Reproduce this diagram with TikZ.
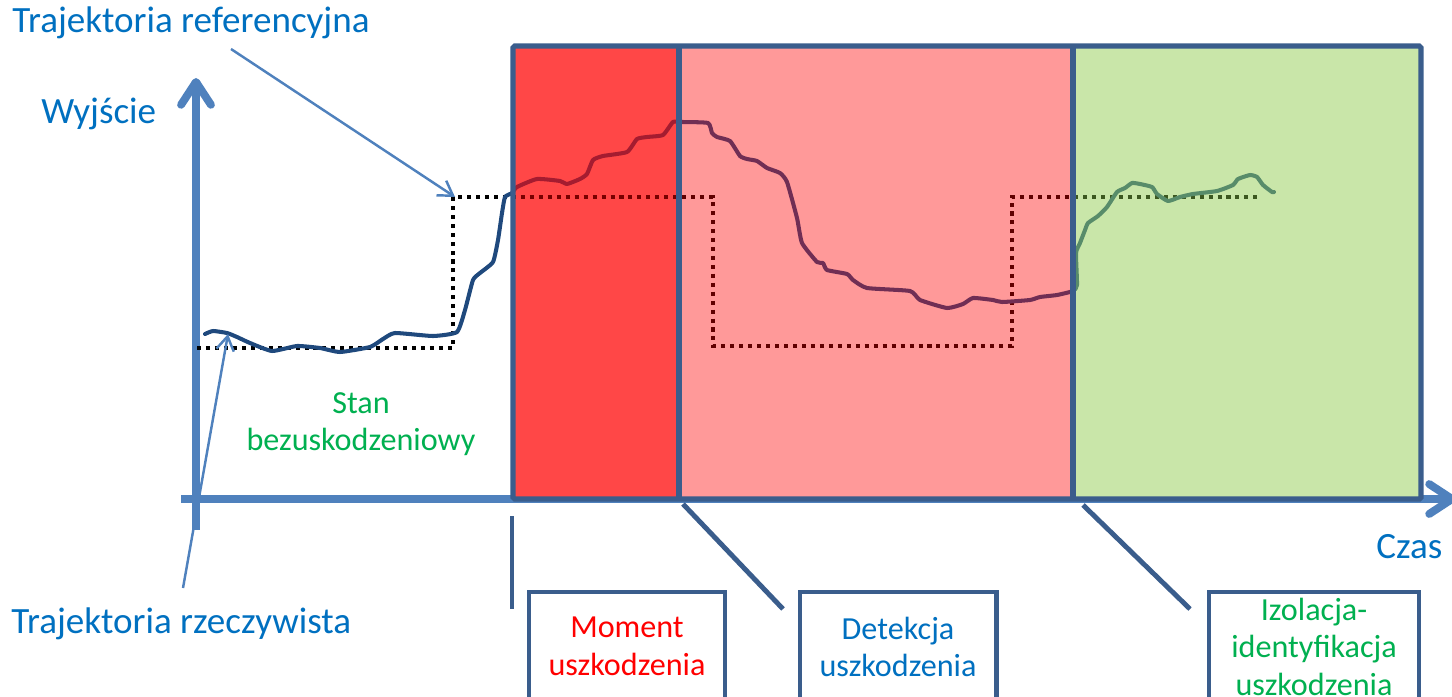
\documentclass[tikz,border=0pt]{standalone}
\usepackage{fontspec}
\setmainfont{Carlito}
\usetikzlibrary{arrows.meta}

\definecolor{axisblue}{RGB}{79,129,189}
\definecolor{frameblue}{RGB}{58,93,140}
\definecolor{labelblue}{RGB}{0,112,192}
\definecolor{labelgreen}{RGB}{0,176,80}
\definecolor{faultred}{RGB}{255,71,71}
\definecolor{detectpink}{RGB}{255,153,153}
\definecolor{isolgreen}{RGB}{201,230,169}
\definecolor{realblue}{RGB}{31,73,125}
\definecolor{realred}{RGB}{165,28,48}
\definecolor{realplum}{RGB}{112,46,84}
\definecolor{realgreen}{RGB}{88,140,106}
\definecolor{refred}{RGB}{120,0,0}
\definecolor{refplum}{RGB}{96,0,0}
\definecolor{refgreen}{RGB}{60,88,32}

\newcommand{\bigfont}{\fontsize{21.1pt}{24pt}\selectfont}
\newcommand{\boxfont}{\fontsize{18.3pt}{21.3pt}\selectfont}

% measured output and the set point
\newcommand{\realcurve}{plot[smooth, tension=0.3] coordinates {
  (205,334) (213,331) (227,333) (237,337) (250,343) (272,351) (297,346)
  (320,348) (340,352) (370,347) (383,339) (395,333) (433,336) (457,332)
  (465,310) (473,280) (480,273) (493,262) (498,240) (502,213) (505,197)
  (512,193) (517,187) (537,179) (560,181) (567,184) (580,179) (587,174)
  (593,160) (603,156) (627,152) (637,139) (647,137) (663,135) (673,122)
  (682,122) (708,123) (712,133) (717,137) (730,141) (740,156) (747,159)
  (757,161) (767,168) (780,173) (787,182) (797,218) (802,243) (817,262)
  (823,263) (827,270) (847,274) (853,280) (867,288) (910,291) (920,300)
  (947,308) (963,304) (973,298) (993,300) (1002,302) (1030,300) (1040,297)
  (1057,295) (1073,291) (1077,285) (1076,253) (1080,243) (1085,230)
  (1088,223) (1098,216) (1107,207) (1117,192) (1125,188) (1132,183)
  (1140,184) (1152,187) (1157,194) (1168,201) (1180,197) (1193,194)
  (1217,191) (1233,185) (1238,179) (1250,175) (1257,177) (1263,185)
  (1272,192) (1274,192)}}
\newcommand{\refcurve}{(197,348) -- (453,348) -- (453,197) -- (713,197)
  -- (713,346) -- (1012,346) -- (1012,197) -- (1258,197)}

\tikzset{
  axis/.style={axisblue, line width=4.5pt, -{Straight Barb[length=13pt,width=17pt,round]}},
  pointer/.style={axisblue, line width=1.4pt, -{Straight Barb[length=8pt,width=10pt]}},
  frame/.style={frameblue, line width=3pt},
  callout/.style={frameblue, line width=2.8pt},
  realline/.style={line width=2.3pt, line join=round, line cap=round},
  refline/.style={line width=2.3pt, dash pattern=on 2.3pt off 2.8pt},
  biglabel/.style={font=\bigfont, text=labelblue, inner sep=0pt, anchor=base west},
  faultbox/.style={draw=frameblue, line width=2.3pt, fill=white, anchor=north,
    minimum width=3.92cm, align=center, font=\boxfont, inner xsep=2pt,
    inner ysep=0.5cm, text depth=1.5cm}
}

\begin{document}
\begin{tikzpicture}[x=0.02cm, y=-0.02cm]
	\path[use as bounding box, clip] (0,0) rectangle (1452,696);
	
	% axes
	\draw[axis] (181,499) -- (1456,499);
	\draw[axis] (196,530) -- (196,78);
	
	% phases after the fault
	\fill[faultred] (513,46) rectangle (679,499);
	\fill[detectpink] (679,46) rectangle (1073,499);
	\fill[isolgreen] (1073,46) rectangle (1421,499);
	
	% trajectories, tinted by the phase they pass through
	\foreach \xa/\xb/\rc/\dc in {
		0/513/realblue/black,
		513/679/realred/refred,
		679/1073/realplum/refplum,
		1073/1452/realgreen/refgreen}
	{
		\begin{scope}
			\clip (\xa,0) rectangle (\xb,696);
			\draw[refline, draw=\dc] \refcurve;
			\draw[realline, draw=\rc] \realcurve;
		\end{scope}
	}
	
	\draw[frame, rounded corners=1pt] (513,46) rectangle (1421,499);
	\draw[frame] (679,46) -- (679,499);
	\draw[frame] (1073,46) -- (1073,499);
	
	% boxes below the time axis
	\node[faultbox, text=red] (momentBox) at (627,590) {Moment\\uszkodzenia};
	\node[faultbox, text=labelblue, minimum width=3.94cm] (detectBox) at (898,590) {Detekcja\\uszkodzenia};
	\node[faultbox, text=labelgreen, minimum width=4.2cm, inner ysep=0.12cm] (isolBox) at (1314,590) {Izolacja-\\identyfikacja\\uszkodzenia};
	
	\coordinate (faultTop) at (512,516);
	\coordinate (faultEnd) at (512,609);
	\coordinate (detectTop) at (683,504);
	\coordinate (detectEnd) at (783,609);
	\coordinate (isolTop) at (1083,505);
	\coordinate (isolEnd) at (1190,609);
	\draw[callout] (faultTop) -- (faultEnd);
	\draw[callout] (detectTop) -- (detectEnd);
	\draw[callout] (isolTop) -- (isolEnd);
	
	% labels
	\node[biglabel] (refLabel) at (12,33) {Trajektoria referencyjna};
	\node[biglabel] (outLabel) at (41,123) {Wyjście};
	\node[biglabel] (timeLabel) at (1376,558) {Czas};
	\node[biglabel] (realLabel) at (11,633) {Trajektoria rzeczywista};
	\node[font=\boxfont, text=labelgreen, align=center, inner sep=0pt, anchor=north] (healthyLabel) at (361,392) {Stan\\bezuskodzeniowy};
	
	\coordinate (refFoot) at (231,49);
	\coordinate (refCorner) at (455,197);
	\coordinate (realFoot) at (183,588);
	\coordinate (realStart) at (228,334);
	\draw[pointer] (refFoot) -- (refCorner);
	\draw[pointer] (realFoot) -- (realStart);
\end{tikzpicture}
\end{document}
